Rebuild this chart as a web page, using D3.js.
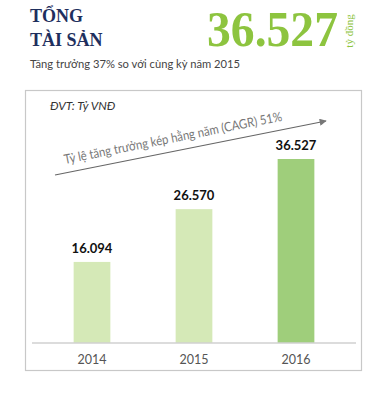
<!DOCTYPE html>
<html><head><meta charset="utf-8">
<script src="https://cdn.jsdelivr.net/npm/d3@7"></script>
<style>body{margin:0;background:#fff}svg{display:block}</style>
</head><body>
<svg id="c" width="392" height="400"></svg>
<script>
const categories = ["2014", "2015", "2016"];
const values = [16094, 26570, 36527];
const valueLabels = ["16.094", "26.570", "36.527"];
const barColors = ["#d5e9b7", "#d5e9b7", "#9fce7b"];

const svg = d3.select("#c");
const serif = "'Liberation Serif','DejaVu Serif',serif";
const sans = "Lato,'Open Sans',sans-serif";

// Header
svg.append("text").attr("x", 30).attr("y", 22).attr("font-family", serif).attr("font-weight", "bold")
  .attr("font-size", 18).attr("fill", "#1e2f5e").text("TỔNG");
svg.append("text").attr("x", 30).attr("y", 46).attr("font-family", serif).attr("font-weight", "bold")
  .attr("font-size", 18).attr("fill", "#1e2f5e").text("TÀI SẢN");
svg.append("text").attr("x", 207).attr("y", 46).attr("font-family", serif).attr("font-weight", "bold")
  .attr("font-size", 51).attr("fill", "#8dc43f").attr("textLength", 131).attr("lengthAdjust", "spacingAndGlyphs").text("36.527");
svg.append("text").attr("transform", "translate(353,31) rotate(-90)").attr("text-anchor", "middle")
  .attr("font-family", serif).attr("font-size", 11).attr("fill", "#8dc43f").text("tỷ đồng");
svg.append("text").attr("x", 30).attr("y", 68).attr("font-family", sans)
  .attr("font-size", 12).attr("fill", "#444").attr("textLength", 210).attr("lengthAdjust", "spacingAndGlyphs")
  .text("Tăng trưởng 37% so với cùng kỳ năm 2015");

// Frame
svg.append("rect").attr("x", 25.5).attr("y", 90.5).attr("width", 336).attr("height", 280)
  .attr("fill", "#fff").attr("stroke", "#c8c8c8").attr("stroke-width", 1.2);

// Scales
const x = d3.scaleBand().domain(categories).range([41, 347]).paddingInner(0.64).paddingOuter(0.32);
const y = d3.scaleLinear().domain([0, 36527]).range([343, 159]);

svg.selectAll("rect.bar").data(values).join("rect").attr("class", "bar")
  .attr("x", (d, i) => x(categories[i])).attr("width", x.bandwidth())
  .attr("y", d => y(d)).attr("height", d => y(0) - y(d))
  .attr("fill", (d, i) => barColors[i]);

svg.selectAll("text.val").data(values).join("text").attr("class", "val")
  .attr("x", (d, i) => x(categories[i]) + x.bandwidth() / 2).attr("y", d => y(d) - 9)
  .attr("text-anchor", "middle").attr("font-family", sans).attr("font-weight", "bold")
  .attr("font-size", 13).attr("fill", "#111").text((d, i) => valueLabels[i]);

// Axis
const ax = svg.append("g").attr("transform", "translate(0,343)")
  .call(d3.axisBottom(x).tickSize(0).tickPadding(12));
ax.select(".domain").attr("d", "M32,0H356").attr("stroke", "#d0d0d0").attr("stroke-width", 1.5);
ax.selectAll("text").attr("font-family", sans).attr("font-size", 12.5).attr("fill", "#555");

// Unit label
svg.append("text").attr("x", 50).attr("y", 110).attr("font-family", sans).attr("font-style", "italic")
  .attr("font-size", 12).attr("fill", "#333").text("ĐVT: Tỷ VNĐ");

// CAGR arrow
svg.append("defs").append("marker").attr("id", "ah").attr("viewBox", "0 0 10 10")
  .attr("refX", 9).attr("refY", 5).attr("markerWidth", 8).attr("markerHeight", 7).attr("orient", "auto")
  .attr("markerUnits", "userSpaceOnUse")
  .append("path").attr("d", "M0,0L10,5L0,10z").attr("fill", "#777");
svg.append("line").attr("x1", 55).attr("y1", 175).attr("x2", 326).attr("y2", 121)
  .attr("stroke", "#666").attr("stroke-width", 1.2).attr("marker-end", "url(#ah)");
const ang = Math.atan2(121 - 175, 326 - 55) * 180 / Math.PI;
svg.append("text").attr("transform", `translate(65,164) rotate(${ang})`)
  .attr("font-family", sans).attr("font-size", 13).attr("fill", "#777")
  .attr("textLength", 222).attr("lengthAdjust", "spacingAndGlyphs")
  .text("Tỷ lệ tăng trưởng kép hằng năm (CAGR) 51%");
</script>
</body></html>
